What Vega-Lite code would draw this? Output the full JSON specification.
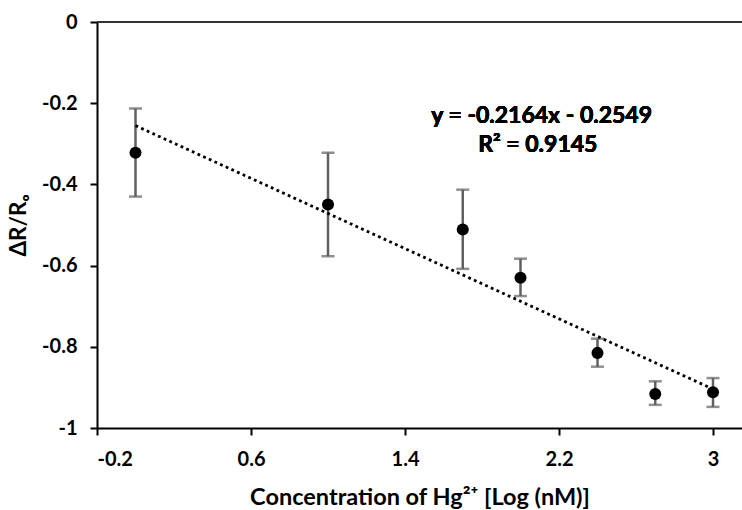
{
  "$schema": "https://vega.github.io/schema/vega-lite/v6.json",
  "width": 645,
  "height": 406,
  "autosize": {"type": "none"},
  "padding": {"left": 97, "top": 22, "right": 0, "bottom": 82},
  "background": "white",
  "config": {
    "view": {"stroke": null},
    "font": "Lato",
    "axis": {
      "grid": false,
      "domainColor": "black",
      "domainWidth": 2,
      "tickColor": "black",
      "tickWidth": 2,
      "tickSize": 7,
      "labelFont": "Lato",
      "labelFontSize": 20,
      "labelFontWeight": "bold",
      "labelColor": "black",
      "titleFont": "Lato",
      "titleFontSize": 23.5,
      "titleFontWeight": "bold",
      "titleColor": "black"
    }
  },
  "data": {
    "values": [
      {"logc": 0, "r": -0.322, "lo": -0.430, "hi": -0.213},
      {"logc": 1, "r": -0.4495, "lo": -0.577, "hi": -0.322},
      {"logc": 1.7, "r": -0.511, "lo": -0.608, "hi": -0.413},
      {"logc": 2, "r": -0.630, "lo": -0.675, "hi": -0.583},
      {"logc": 2.4, "r": -0.815, "lo": -0.849, "hi": -0.780},
      {"logc": 2.7, "r": -0.916, "lo": -0.943, "hi": -0.885},
      {"logc": 3, "r": -0.912, "lo": -0.948, "hi": -0.877}
    ]
  },
  "layer": [
    {
      "mark": {"type": "rule", "color": "#333333", "strokeWidth": 2},
      "encoding": {"y": {"datum": 0, "type": "quantitative", "scale": {"domain": [-1, 0], "nice": false}}}
    },
    {
      "mark": {"type": "rule", "color": "#606060", "strokeWidth": 2.5},
      "encoding": {
        "x": {"field": "logc", "type": "quantitative"},
        "y": {"field": "lo", "type": "quantitative"},
        "y2": {"field": "hi"}
      }
    },
    {
      "mark": {"type": "tick", "orient": "horizontal", "color": "#606060", "size": 13, "thickness": 2.5},
      "encoding": {
        "x": {"field": "logc", "type": "quantitative"},
        "y": {"field": "lo", "type": "quantitative"}
      }
    },
    {
      "mark": {"type": "tick", "orient": "horizontal", "color": "#606060", "size": 13, "thickness": 2.5},
      "encoding": {
        "x": {"field": "logc", "type": "quantitative"},
        "y": {"field": "hi", "type": "quantitative"}
      }
    },
    {
      "transform": [{"regression": "r", "on": "logc"}],
      "mark": {"type": "line", "color": "black", "strokeWidth": 2.8, "strokeDash": [2.8, 3.4], "strokeCap": "butt"},
      "encoding": {
        "x": {"field": "logc", "type": "quantitative"},
        "y": {"field": "r", "type": "quantitative"}
      }
    },
    {
      "mark": {"type": "circle", "color": "black", "opacity": 1, "size": 145},
      "encoding": {
        "x": {
          "field": "logc", "type": "quantitative",
          "scale": {"domain": [-0.2, 3.1506], "nice": false, "zero": false},
          "axis": {
            "values": [-0.2, 0.6, 1.4, 2.2, 3],
            "labelExpr": "toString(datum.value)",
            "labelPadding": 14,
            "title": "Concentration of Hg²⁺ [Log (nM)]",
            "titlePadding": 16
          }
        },
        "y": {
          "field": "r", "type": "quantitative",
          "scale": {"domain": [-1, 0], "nice": false},
          "axis": {
            "values": [-1, -0.8, -0.6, -0.4, -0.2, 0],
            "labelExpr": "toString(datum.value)",
            "labelPadding": 13,
            "title": "ΔR/Rₒ",
            "titleFontSize": 22.5,
            "titlePadding": 11
          }
        }
      }
    },
    {
      "mark": {"type": "text", "font": "Lato", "fontSize": 23, "fontWeight": "bold", "color": "black", "align": "center", "baseline": "middle"},
      "encoding": {
        "x": {"datum": 2.11, "type": "quantitative"},
        "y": {"datum": -0.232, "type": "quantitative"},
        "text": {"value": "y = -0.2164x - 0.2549"}
      }
    },
    {
      "mark": {"type": "text", "font": "Lato", "fontSize": 23, "fontWeight": "bold", "color": "black", "align": "center", "baseline": "middle"},
      "encoding": {
        "x": {"datum": 2.09, "type": "quantitative"},
        "y": {"datum": -0.304, "type": "quantitative"},
        "text": {"value": "R² = 0.9145"}
      }
    }
  ]
}
